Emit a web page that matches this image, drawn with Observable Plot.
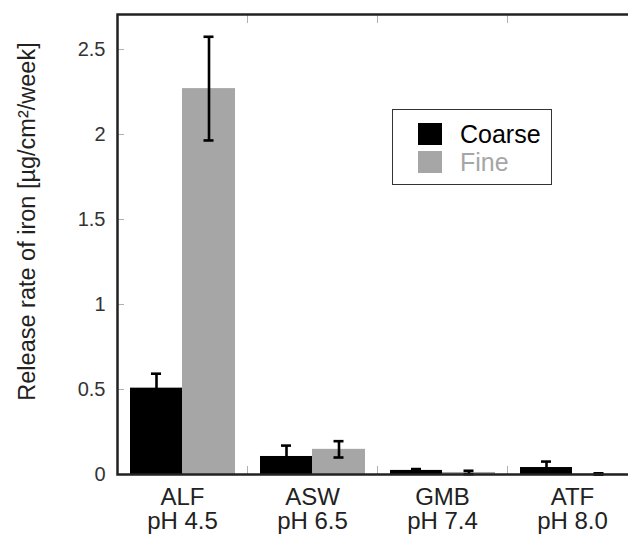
<!DOCTYPE html>
<html>
<head>
<meta charset="utf-8">
<script src="https://cdn.jsdelivr.net/npm/d3@7"></script>
<script src="https://cdn.jsdelivr.net/npm/@observablehq/plot@0.6"></script>
<style>
  html, body { margin: 0; padding: 0; background: #fff; overflow: hidden; }
  #chart { position: relative; width: 628px; height: 538px; overflow: hidden;
           font-family: "Liberation Sans", Arial, sans-serif; }
  #chart svg { position: absolute; left: 0; top: 0; max-width: none !important; }
  .legend { position: absolute; left: 392px; top: 109px; width: 160px; height: 76px;
            border: 1.5px solid #333; background: #fff; box-sizing: border-box; }
  .legend .row { position: absolute; left: 25px; height: 24px; display: flex; align-items: center; }
  .legend .sw { width: 24px; height: 22px; margin-right: 18px; }
  .legend .lab { font-size: 25px; line-height: 24px; }
</style>
</head>
<body>
<div id="chart"></div>
<script>
// Iron release rate by simulated body fluid, coarse vs fine particles
const media    = ["ALF", "ASW", "GMB", "ATF"];
const phLabels = ["pH 4.5", "pH 6.5", "pH 7.4", "pH 8.0"];
const series   = ["Coarse", "Fine"];
const seriesColors = ["#000000", "#a6a6a6"];

const coarse    = [0.508, 0.106, 0.024, 0.041];
const coarseErr = [0.085, 0.064, 0.008, 0.035];
const fine      = [2.27, 0.148, 0.012, 0.003];
const fineErr   = [0.305, 0.048, 0.010, 0.004];

const yTicks      = [0, 0.5, 1, 1.5, 2, 2.5];
const yTickLabels = ["0", "0.5", "1", "1.5", "2", "2.5"];
const yTitle = "Release rate of iron [µg/cm²/week]";

const rows = media.map((m, i) => ({
  medium: m, ph: phLabels[i],
  coarse: coarse[i], coarseErr: coarseErr[i],
  fine: fine[i], fineErr: fineErr[i]
}));

const W = 640, marginLeft = 117, marginRight = 3;
const band = (W - marginLeft - marginRight) / media.length;
// bar placement inside each medium's band
const cL = 13, cR = band - 65, fL = 65, fR = band - 118;
const cCenter = (cL + (band - cR)) / 2 - band / 2;
const fCenter = (fL + (band - fR)) / 2 - band / 2;
const capHalf = 5;

const err = {stroke: "#000", strokeWidth: 2.6};

const plot = Plot.plot({
  width: W,
  height: 538,
  marginLeft, marginRight,
  marginTop: 14,
  marginBottom: 64,
  style: {fontFamily: "Liberation Sans, Arial, sans-serif", color: "#222", background: "transparent", maxWidth: "none"},
  x: {type: "band", domain: media, padding: 0},
  y: {domain: [0, 2.706]},
  marks: [
    Plot.barY(rows, {x: "medium", y: "coarse", fill: seriesColors[0], insetLeft: cL, insetRight: cR}),
    Plot.barY(rows, {x: "medium", y: "fine", fill: seriesColors[1], insetLeft: fL, insetRight: fR}),
    // error bars
    Plot.ruleX(rows, {x: "medium", y1: d => d.coarse - d.coarseErr, y2: d => d.coarse + d.coarseErr, dx: cCenter, ...err}),
    Plot.tickY(rows, {x: "medium", y: d => d.coarse + d.coarseErr, insetLeft: band / 2 + cCenter - capHalf, insetRight: band / 2 - cCenter - capHalf, ...err}),
    Plot.tickY(rows, {x: "medium", y: d => d.coarse - d.coarseErr, insetLeft: band / 2 + cCenter - capHalf, insetRight: band / 2 - cCenter - capHalf, ...err}),
    Plot.ruleX(rows, {x: "medium", y1: d => d.fine - d.fineErr, y2: d => d.fine + d.fineErr, dx: fCenter, ...err}),
    Plot.tickY(rows, {x: "medium", y: d => d.fine + d.fineErr, insetLeft: band / 2 + fCenter - capHalf, insetRight: band / 2 - fCenter - capHalf, ...err}),
    Plot.tickY(rows, {x: "medium", y: d => d.fine - d.fineErr, insetLeft: band / 2 + fCenter - capHalf, insetRight: band / 2 - fCenter - capHalf, ...err}),
    // y axis: inward ticks, labels outside
    Plot.axisY({anchor: "left", ticks: yTicks, tickFormat: (d, i) => yTickLabels[i], tickSize: -7,
                tickPadding: 19, stroke: "#b0b0b0", fontSize: 20, fill: "#333", label: null}),
    Plot.axisY({anchor: "right", ticks: yTicks, tickFormat: () => "", tickSize: -7,
                stroke: "#b0b0b0", label: null}),
    // group boundary ticks, top and bottom
    Plot.axisX({anchor: "bottom", tickSize: -8, dx: -band / 2, tickFormat: () => "", stroke: "#b0b0b0", label: null}),
    Plot.axisX({anchor: "top", tickSize: -8, dx: -band / 2, tickFormat: () => "", stroke: "#b0b0b0", label: null}),
    // category labels
    Plot.axisX({anchor: "bottom", tickSize: 0, tickPadding: 13, fontSize: 24, lineHeight: 1.0, fill: "#222",
                tickFormat: d => `${d}\n${phLabels[media.indexOf(d)]}`, label: null}),
    // y title
    Plot.text([yTitle], {frameAnchor: "left", textAnchor: "middle", rotate: -90, dx: -90, dy: -23,
                         fontSize: 23.5, fill: "#222"}),
    Plot.frame({stroke: "#222", strokeWidth: 2.5})
  ]
});

const chart = document.getElementById("chart");
chart.appendChild(plot);

// legend box
const legend = document.createElement("div");
legend.className = "legend";
series.forEach((s, i) => {
  const row = document.createElement("div");
  row.className = "row";
  row.style.top = (i === 0 ? 12 : 40) + "px";
  const sw = document.createElement("div");
  sw.className = "sw";
  sw.style.background = seriesColors[i];
  const lab = document.createElement("span");
  lab.className = "lab";
  lab.textContent = s;
  lab.style.color = i === 0 ? "#000" : seriesColors[i];
  row.appendChild(sw);
  row.appendChild(lab);
  legend.appendChild(row);
});
chart.appendChild(legend);
</script>
</body>
</html>
